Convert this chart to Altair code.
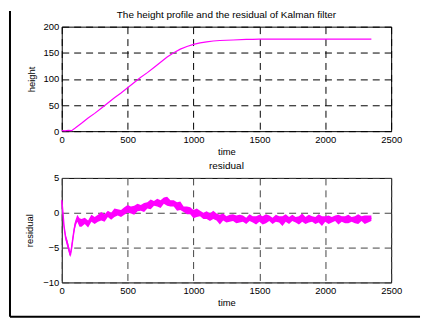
import altair as alt
import pandas as pd

# ---------------- data ----------------
title_text = "The height profile and the residual of Kalman filter"
sub_title = "residual"
x_ticks = [0, 500, 1000, 1500, 2000, 2500]
h_ticks = [0, 50, 100, 150, 200]
r_ticks = [-10, -5, 0, 5]

t_height = [0, 25, 50, 75, 100, 150, 200, 250, 300, 350, 400, 450, 500, 550, 600,
            650, 700, 750, 800, 850, 900, 950, 1000, 1050, 1100, 1150, 1200, 1300,
            1400, 1450, 1500, 1600, 1800, 2000, 2200, 2350]
height_vals = [1, 0.5, 1.5, 1, 5.5, 15, 25, 34, 44, 54, 64, 73, 83, 93, 103,
               112, 122, 132, 142, 150, 157, 162, 166, 169, 171, 172.5, 173.5, 174.5,
               175.5, 175.5, 176, 176, 176, 176, 176, 176]

t_res = [0, 8, 17, 30, 43, 55, 65, 75, 85, 95, 105, 118, 135, 150,
         175, 200, 225, 250, 275, 300, 325, 350, 375, 400, 425, 450, 475, 500,
         525, 550, 575, 600, 625, 650, 675, 700, 725, 750, 775, 800, 825, 850,
         875, 900, 925, 950, 975, 1000, 1025, 1050, 1075, 1100, 1125, 1150, 1175,
         1200, 1225, 1250, 1275, 1300, 1325, 1350, 1375, 1400, 1425, 1450, 1475,
         1500, 1525, 1550, 1575, 1600, 1625, 1650, 1675, 1700, 1725, 1750, 1775,
         1800, 1825, 1850, 1875, 1900, 1925, 1950, 1975, 2000, 2025, 2050, 2075,
         2100, 2125, 2150, 2175, 2200, 2225, 2250, 2275, 2300, 2325, 2350]
res_center = [1.8, 0.2, -1.9, -3.6, -4.4, -5.3, -6.1, -5.0, -3.6, -2.3, -1.4, -0.9, -1.3, -1.5,
              -1.2, -1.4, -1.0, -1.0, -0.8, -0.7, -0.5, -0.3, -0.4, -0.1, 0.0, 0.1, 0.2, 0.3,
              0.5, 0.5, 0.6, 0.8, 0.8, 1.0, 1.1, 1.3, 1.4, 1.5, 1.7, 1.6, 1.4, 1.2,
              1.0, 0.8, 0.6, 0.4, 0.2, 0.0, -0.1, -0.2, -0.3, -0.4, -0.5, -0.5, -0.6,
              -0.7, -0.7, -0.8, -0.8, -0.9, -0.8, -0.9, -0.9, -1.0, -0.9, -0.9, -1.0,
              -0.9, -0.9, -1.0, -0.9, -1.0, -0.9, -0.9, -1.0, -0.9, -1.0, -0.9, -0.9,
              -1.0, -0.9, -1.0, -0.9, -1.0, -0.9, -0.9, -1.0, -0.9, -1.0, -0.9, -0.9,
              -1.0, -0.9, -1.0, -0.9, -0.9, -1.0, -0.9, -0.9, -1.0, -0.9, -0.8]
# noise band thickness above / below the centre
res_up = [0.3, 0.3, 0.3, 0.4, 0.5, 0.4, 0.3, 0.5, 0.4, 0.5, 0.4, 0.6, 0.5, 0.6,
          0.5, 0.3, 0.7, 0.4, 0.5, 0.8, 0.3, 0.6, 0.4, 0.7,
          0.5, 0.3, 0.6, 0.8, 0.4, 0.5, 0.7, 0.3, 0.6, 0.5,
          0.8, 0.4, 0.6, 0.3, 0.5, 0.7, 0.4, 0.6, 0.5, 0.8,
          0.3, 0.5, 0.6, 0.4, 0.7, 0.5, 0.3, 0.6, 0.4, 0.8,
          0.5, 0.4, 0.6, 0.3, 0.5, 0.7, 0.4, 0.6, 0.5, 0.3,
          0.7, 0.4, 0.5, 0.6, 0.4, 0.8, 0.5, 0.3, 0.6, 0.4,
          0.5, 0.7, 0.4, 0.6, 0.3, 0.5, 0.8, 0.4, 0.6, 0.5,
          0.3, 0.7, 0.5, 0.4, 0.6, 0.3, 0.5, 0.7, 0.4, 0.5,
          0.6, 0.3, 0.5, 0.7, 0.4, 0.6, 0.5, 0.4]
res_dn = [0.3, 0.3, 0.4, 0.4, 0.6, 0.5, 0.3, 0.4, 0.5, 0.5, 0.5, 0.4, 0.7, 0.5,
          0.4, 0.7, 0.3, 0.6, 0.5, 0.4, 0.8, 0.3, 0.6, 0.5,
          0.4, 0.7, 0.5, 0.3, 0.6, 0.8, 0.4, 0.5, 0.7, 0.4,
          0.6, 0.3, 0.5, 0.8, 0.4, 0.6, 0.5, 0.3, 0.7, 0.4,
          0.5, 0.6, 0.4, 0.8, 0.5, 0.3, 0.6, 0.5, 0.7, 0.4,
          0.5, 1.0, 0.4, 0.6, 0.5, 0.3, 0.7, 0.5, 0.4, 0.6,
          0.3, 0.5, 0.7, 0.4, 0.8, 0.5, 0.3, 0.6, 0.4, 0.5,
          0.9, 0.4, 0.6, 0.3, 0.5, 0.7, 0.4, 0.6, 0.5, 0.3,
          0.7, 0.5, 0.9, 0.4, 0.6, 0.5, 0.3, 0.7, 0.4, 0.5,
          0.6, 0.4, 0.5, 0.7, 0.3, 0.6, 0.5, 0.4]

# ---------------- styling ----------------
FONT = "Liberation Sans"
MAG = "#ff00ff"
W, H = 331, 105

height_df = pd.DataFrame({"time": t_height, "height": height_vals})
res_df = pd.DataFrame({
    "time": t_res,
    "residual": res_center,
    "lo": [c - d for c, d in zip(res_center, res_dn)],
    "hi": [c + u for c, u in zip(res_center, res_up)],
})
one = pd.DataFrame({"k": [0]})


def x_axis(grid_color):
    return alt.Axis(values=x_ticks, format="d", title="time", grid=True, gridColor=grid_color,
                    gridDash=[7, 5], gridWidth=1, gridOpacity=1, ticks=False, domain=False,
                    labelFlush=False, labelOverlap=False, labelPadding=3, titlePadding=3,
                    labelFont=FONT, titleFont=FONT, labelFontSize=9.5, titleFontSize=9.5,
                    titleFontWeight="normal", labelColor="black", titleColor="black")


def y_axis(vals, title, grid_color, tpad):
    return alt.Axis(values=vals, format="d", title=title, grid=True, gridColor=grid_color,
                    gridDash=[7, 5], gridWidth=1, gridOpacity=1, ticks=False, domain=False,
                    labelFlush=False, labelOverlap=False, labelPadding=3, titlePadding=tpad,
                    labelFont=FONT, titleFont=FONT, labelFontSize=9.5, titleFontSize=9.5,
                    titleFontWeight="normal", labelColor="black", titleColor="black")


def title_mark(text):
    return alt.Chart(one).mark_text(
        font=FONT, fontSize=10, color="black", align="center", baseline="middle"
    ).encode(x=alt.value(W / 2), y=alt.value(-11.7), text=alt.value(text))


x_scale = alt.Scale(domain=[0, 2500], nice=False, zero=False)

# ---------------- top panel ----------------
top_line = alt.Chart(height_df).mark_line(color=MAG, strokeWidth=1.2).encode(
    x=alt.X("time:Q", scale=x_scale, axis=x_axis("#000000")),
    y=alt.Y("height:Q", scale=alt.Scale(domain=[0, 200], nice=False),
            axis=y_axis(h_ticks, "height", "#000000", 7)),
)
top = alt.layer(top_line, title_mark(title_text)).properties(width=W, height=H)

# ---------------- bottom panel ----------------
r_scale = alt.Scale(domain=[-10, 5], nice=False, zero=False)
bx = alt.X("time:Q", scale=x_scale, axis=x_axis("#444444"))
r_axis = y_axis(r_ticks, "residual", "#444444", 8)

band = alt.Chart(res_df).mark_area(color=MAG, opacity=1).encode(
    x=bx,
    y=alt.Y("lo:Q", scale=r_scale, axis=r_axis),
    y2="hi:Q",
)
centre = alt.Chart(res_df).mark_line(color=MAG, strokeWidth=1.5).encode(
    x=bx,
    y=alt.Y("residual:Q", scale=r_scale, axis=r_axis),
)
frame_left = alt.Chart(one).mark_rule(color="black", strokeWidth=2).encode(
    x=alt.value(-52), y=alt.value(-167.7), y2=alt.value(139.5))
frame_bottom = alt.Chart(one).mark_rule(color="black", strokeWidth=2).encode(
    x=alt.value(-52), x2=alt.value(360), y=alt.value(139.5))

bottom = alt.layer(band, centre, frame_left, frame_bottom,
                   title_mark(sub_title)).properties(width=W, height=H)

chart = alt.vconcat(top, bottom, spacing=47, bounds="flush").properties(
    padding={"left": 0, "top": 0, "right": 0, "bottom": 0},
    background="white",
).configure_view(stroke="black", strokeWidth=1)

chart.save("out.html", embed_options={"renderer": "svg", "actions": False})
